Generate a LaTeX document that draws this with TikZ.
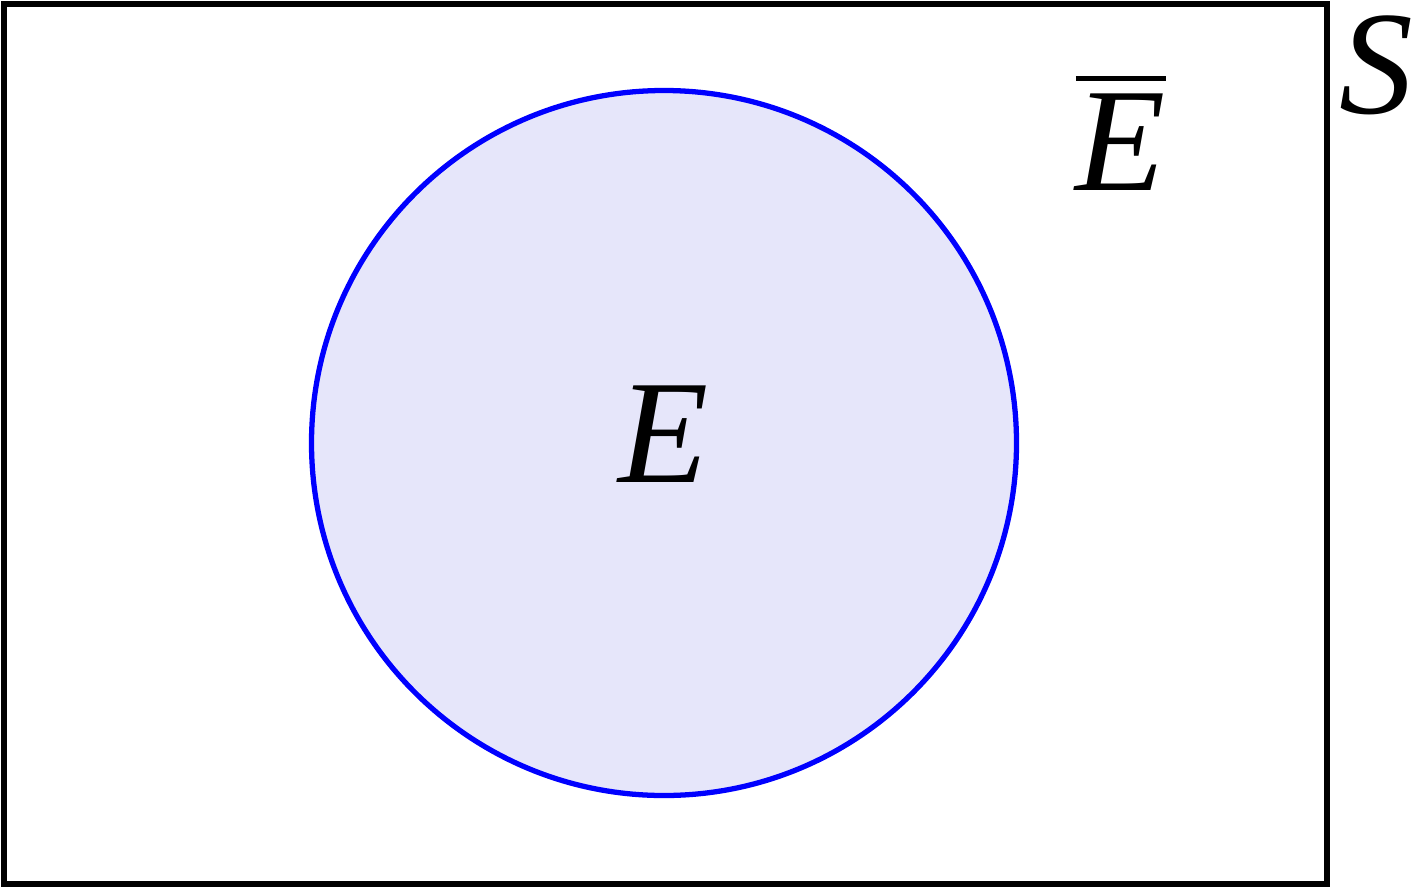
\documentclass[tikz,border=0pt]{standalone}
\usepackage{fontspec}
\setmainfont{Liberation Serif}
\usepackage{tikz}
\usetikzlibrary{positioning}
\definecolor{evtCol}{HTML}{0000FF}
\definecolor{evtFill}{HTML}{E6E6FA}
\newcommand{\barset}[1]{\vbox{\hrule height 1.4pt\kern 3.5pt\hbox{#1}}}
\tikzset{
  space/.style={draw, line width=1.45pt, rectangle, inner sep=0pt,
                minimum width=13.23cm, minimum height=8.80cm},
  eventset/.style={draw=evtCol, fill=evtFill, line width=1.5pt, circle,
                   inner sep=0pt, minimum size=7.05cm},
  setlbl/.style={inner sep=0pt, font=\fontsize{42}{50}\selectfont\itshape},
}
\begin{document}
\begin{tikzpicture}
  \useasboundingbox (0,0) rectangle (14.15,8.88);
  % sample space and event
  \node[space] (S) at (6.655,4.44) {};
  \node[eventset] (ev) at (6.64,4.45) {};
  % labels
  \node[setlbl, anchor=base] (lblE) at (6.64,4.06) {E};
  \node[setlbl, anchor=base] (lblEbar) at (11.21,6.98) {\barset{E}};
  \node[setlbl, anchor=base] (lblS) at (13.76,7.75) {S};
\end{tikzpicture}
\end{document}
